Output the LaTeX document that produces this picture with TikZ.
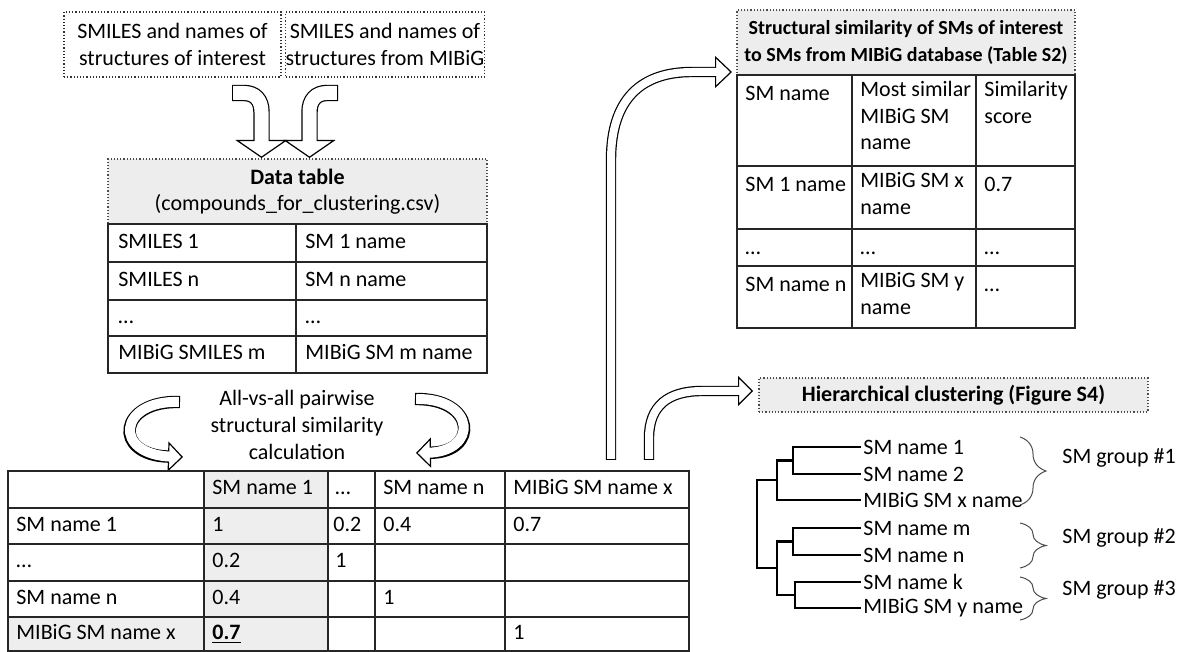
\documentclass[tikz,border=0pt]{standalone}
\usepackage{fontspec}
\setmainfont{Carlito}
\usetikzlibrary{arrows.meta,decorations.pathreplacing}
\definecolor{headgray}{HTML}{EDEDED}
\definecolor{cellgray}{HTML}{EEEEEE}

\begin{document}
\begin{tikzpicture}
  [x=0.5pt, y=-0.5pt,
  every node/.style={font=\fontsize{11}{13.3}\selectfont},
  inbox/.style={draw=black!80, densely dotted, line width=0.6pt, align=center, minimum height=32.5pt, inner sep=0pt},
  headbox/.style={draw=black!70, densely dotted, line width=0.6pt, fill=headgray, align=center, inner sep=0pt},
  tab/.style={line width=0.7pt, black!85},
  txt/.style={anchor=west, inner sep=0pt, text height=7.5pt, text depth=2pt},
  cell/.style={anchor=north west, inner sep=0pt, align=left, execute at begin node=\strut},
  leaf/.style={anchor=west, inner sep=1pt},
  grp/.style={anchor=west, inner sep=0pt},
  tree/.style={line width=1.35pt},
  brc/.style={decorate, decoration={brace, amplitude=13pt}, line width=0.5pt, black!70},
  fatarrow/.style n args={3}{draw=white, line width=#1, shorten <=0.6pt, shorten >=#3-2pt,
    preaction={draw=black, line width=#1+1.2pt, shorten <=0pt, shorten >=0pt,
      -{Triangle[width=#2, length=#3, fill=white, line width=0.6pt]}}}]
  \useasboundingbox (0,0) rectangle (1180,652);
  %Eingaben
  \node[inbox, minimum width=108.5pt] (intsm) at (172.5,44.5) {SMILES and names of\\structures of interest};
  \node[inbox, minimum width=98pt] (mibsm) at (385,44.5) {SMILES and names of\\structures from MIBiG};
  %Datentabelle
  \node[headbox, minimum width=189.5pt, minimum height=32.5pt] (datahead) at (297.5,191.5) {\textbf{Data table}\\(compounds\_for\_clustering.csv)};
  \draw[tab] (108,224) rectangle (487,373) (296,224) -- (296,373);
  \foreach \y in {262,300,336} \draw[tab] (108,\y) -- (487,\y);
  \node[txt] (d11) at (118,243) {SMILES 1};
  \node[txt] (d12) at (305,243) {SM 1 name};
  \node[txt] (d21) at (118,281) {SMILES n};
  \node[txt] (d22) at (305,281) {SM n name};
  \node[txt] (d31) at (118,318) {…};
  \node[txt] (d32) at (305,318) {…};
  \node[txt] (d41) at (118,354.5) {MIBiG SMILES m};
  \node[txt] (d42) at (305,354.5) {MIBiG SM m name};
  %Pfeile zur Datentabelle
  \coordinate (inl) at (261.5,158);
  \coordinate (inr) at (309.5,158);
  \draw[fatarrow={7pt}{26pt}{9pt}] (232,93) -- (244,93) .. controls (255,93) and (261.5,100) .. (261.5,112) -- (inl);
  \draw[fatarrow={7pt}{26pt}{9pt}] (338,93) -- (327,93) .. controls (316,93) and (309.5,100) .. (309.5,112) -- (inr);
  %Berechnung
  \node[align=center] (calc) at (297,425) {All-vs-all pairwise\\structural similarity\\calculation};
  \coordinate (cl) at (183,457);
  \coordinate (cr) at (416,453);
  \draw[fatarrow={5pt}{15pt}{7.5pt}] (180,402) .. controls (118,400) and (112,455) .. (cl);
  \draw[fatarrow={5pt}{15pt}{7.5pt}] (415,399) .. controls (476,398) and (479,452) .. (cr);
  %Matrix
  \fill[cellgray] (204,471) rectangle (328,651) (8,617) rectangle (204,651);
  \draw[tab] (8,471) rectangle (689,651);
  \foreach \x in {204,328,375,505} \draw[tab] (\x,471) -- (\x,651);
  \foreach \y in {508,544,581,617} \draw[tab] (8,\y) -- (689,\y);
  \node[txt] (m02) at (212,489.5) {SM name 1};
  \node[txt] (m03) at (335,489.5) {…};
  \node[txt] (m04) at (383,489.5) {SM name n};
  \node[txt] (m05) at (513,489.5) {MIBiG SM name x};
  \node[txt] (m11) at (16,526) {SM name 1};
  \node[txt] (m12) at (212,526) {1};
  \node[txt] (m13) at (333,526) {0.2};
  \node[txt] (m14) at (383,526) {0.4};
  \node[txt] (m15) at (513,526) {0.7};
  \node[txt] (m21) at (16,562.5) {…};
  \node[txt] (m22) at (212,562.5) {0.2};
  \node[txt] (m23) at (335,562.5) {1};
  \node[txt] (m31) at (16,599) {SM name n};
  \node[txt] (m32) at (212,599) {0.4};
  \node[txt] (m34) at (383,599) {1};
  \node[txt] (m41) at (16,634) {MIBiG SM name x};
  \node[txt] (m42) at (212,634) {\underline{\textbf{0.7}}};
  \node[txt] (m45) at (513,634) {1};
  %Pfeile nach rechts
  \coordinate (s2in) at (732,72);
  \coordinate (hcin) at (753,391);
  \draw[fatarrow={4pt}{16pt}{8.5pt}] (611,460) -- (611,160) .. controls (611,98) and (642,72) .. (692,72) -- (s2in);
  \draw[fatarrow={4pt}{15pt}{7.5pt}] (649,460) -- (649,438) .. controls (649,406) and (668,391) .. (702,391) -- (hcin);
  %Tabelle S2
  \node[headbox, minimum width=169pt, minimum height=32.5pt, font=\fontsize{10}{13.3}\selectfont\bfseries] (s2head) at (906,42.5) {Structural similarity of SMs of interest\\to SMs from MIBiG database (Table S2)};
  \draw[tab] (737,75) rectangle (1075,328) (852,75) -- (852,328) (976,75) -- (976,328);
  \foreach \y in {166,229,266} \draw[tab] (737,\y) -- (1075,\y);
  \node[cell] (s11) at (745,81) {SM name};
  \node[cell] (s12) at (860,81) {Most similar\\MIBiG SM\\name};
  \node[cell] (s13) at (984,81) {Similarity\\score};
  \node[cell] (s21) at (745,172) {SM 1 name};
  \node[cell] (s22) at (860,172) {MIBiG SM x\\name};
  \node[cell] (s23) at (984,172) {0.7};
  \node[cell] (s31) at (745,235) {…};
  \node[cell] (s32) at (860,235) {…};
  \node[cell] (s33) at (984,235) {…};
  \node[cell] (s41) at (745,272) {SM name n};
  \node[cell] (s42) at (860,272) {MIBiG SM y\\name};
  \node[cell] (s43) at (984,272) {…};
  %Clustering
  \node[headbox, minimum width=194.5pt, minimum height=17pt] (hchead) at (953.5,395) {\textbf{Hierarchical clustering (Figure S4)}};
  \node[leaf] (l1) at (861,447) {SM name 1};
  \node[leaf] (l2) at (861,474) {SM name 2};
  \node[leaf] (l3) at (861,500) {MIBiG SM x name};
  \node[leaf] (lm) at (861,528) {SM name m};
  \node[leaf] (ln) at (861,555) {SM name n};
  \node[leaf] (lk) at (861,582) {SM name k};
  \node[leaf] (ly) at (861,608) {MIBiG SM y name};
  \coordinate (n12) at (793,460.5);
  \coordinate (n123) at (777,480);
  \coordinate (nmn) at (793,541.5);
  \coordinate (nky) at (795,595);
  \coordinate (nlow) at (777,568);
  \coordinate (root) at (757,524);
  \draw[tree] (l1.west) -| (n12) |- (l2.west);
  \draw[tree] (n12) -| (n123) |- (l3.west);
  \draw[tree] (lm.west) -| (nmn) |- (ln.west);
  \draw[tree] (lk.west) -| (nky) |- (ly.west);
  \draw[tree] (nmn) -| (nlow) |- (nky);
  \draw[tree] (n123) -| (root) |- (nlow);
  %Gruppen
  \draw[brc] (1020,437) -- (1020,505);
  \draw[brc] (1020,523) -- (1020,568);
  \draw[brc] (1020,577) -- (1020,620);
  \node[grp] (g1) at (1062,458) {SM group \#1};
  \node[grp] (g2) at (1062,538) {SM group \#2};
  \node[grp] (g3) at (1062,590) {SM group \#3};
\end{tikzpicture}
\end{document}
